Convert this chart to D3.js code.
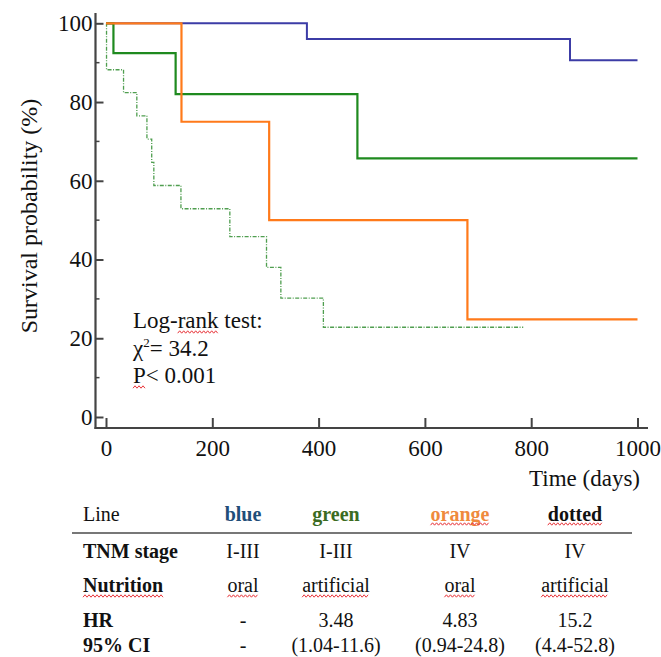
<!DOCTYPE html>
<meta charset="utf-8">
<script src="https://d3js.org/d3.v7.min.js"></script>
<style>
body { margin:0; background:#fff; }
</style>
<body>
</body>
<script>

// survival curves: event times (days) and survival (%) after each step
var blueTimes   = [0, 378, 873, 1000];
var blueSurv    = [100, 96.0, 90.6, 90.6];
var greenTimes  = [0, 14, 131, 473, 1000];
var greenSurv   = [100, 92.4, 82.0, 65.7, 65.7];
var orangeTimes = [0, 142, 307, 680, 1000];
var orangeSurv  = [100, 75.0, 50.0, 24.8, 24.8];
var dottedTimes = [0, 1, 33, 58, 77, 86, 90, 141, 233, 302, 329, 409, 785];
var dottedSurv  = [100, 88.2, 82.4, 76.5, 70.6, 64.7, 58.8, 52.9, 45.8, 38.0, 30.2, 22.8, 22.8];

var xTicks = [0, 200, 400, 600, 800, 1000];
var yTicks = [0, 20, 40, 60, 80, 100];
var yMinorTicks = [10, 30, 50, 70, 90];

// table
var tableCols  = ["blue", "green", "orange", "dotted"];
var rowLabels  = ["TNM stage", "Nutrition", "HR", "95% CI"];
var tnmStage   = ["I-III", "I-III", "IV", "IV"];
var nutrition  = ["oral", "artificial", "oral", "artificial"];
var hrValues   = ["-", "3.48", "4.83", "15.2"];
var ciValues   = ["-", "(1.04-11.6)", "(0.94-24.8)", "(4.4-52.8)"];

var W = 661, H = 657;
var serif = '"Liberation Serif", "Times New Roman", "DejaVu Serif", serif';
var ink = '#111';

var svg = d3.select('body').append('svg')
  .attr('width', W)
  .attr('height', H)
  .style('font-family', serif);

var x = d3.scaleLinear().domain([0, 1000]).range([106, 637.5]);
var y = d3.scaleLinear().domain([0, 100]).range([417, 23.3]);

var axisColor = '#444';

// axes
var yAxis = d3.axisLeft(y).tickValues(yTicks).tickSizeInner(-8).tickSizeOuter(0).tickPadding(3);
var gy = svg.append('g').attr('transform', 'translate(95.5,0)').call(yAxis);
gy.attr('font-family', null);
gy.select('.domain').remove();
gy.selectAll('line').attr('stroke', axisColor).attr('stroke-width', 2);
gy.selectAll('text').style('font-size', '23px').attr('fill', ink);

gy.selectAll('.minor').data(yMinorTicks).enter().append('line')
  .attr('class', 'minor')
  .attr('x1', 0).attr('x2', 4)
  .attr('y1', function(d) { return y(d); })
  .attr('y2', function(d) { return y(d); })
  .attr('stroke', axisColor).attr('stroke-width', 1.5);

var xAxis = d3.axisBottom(x).tickValues(xTicks).tickFormat(d3.format('d'))
  .tickSizeInner(-10).tickSizeOuter(0).tickPadding(12);
var gx = svg.append('g').attr('transform', 'translate(0,428)').call(xAxis);
gx.attr('font-family', null);
gx.select('.domain').remove();
gx.selectAll('line').attr('stroke', axisColor).attr('stroke-width', 2);
gx.selectAll('text').style('font-size', '23px').attr('fill', ink);

svg.append('line').attr('x1', 95.5).attr('x2', 95.5).attr('y1', 13).attr('y2', 429)
  .attr('stroke', axisColor).attr('stroke-width', 2.2);
svg.append('line').attr('x1', 94.5).attr('x2', 648).attr('y1', 428).attr('y2', 428)
  .attr('stroke', axisColor).attr('stroke-width', 2.2);

svg.append('text')
  .attr('transform', 'translate(37,216) rotate(-90)')
  .attr('text-anchor', 'middle')
  .attr('fill', ink)
  .style('font-size', '24px')
  .text('Survival probability (%)');

svg.append('text')
  .attr('x', 640).attr('y', 486)
  .attr('text-anchor', 'end')
  .attr('fill', ink)
  .style('font-size', '23px')
  .text('Time (days)');

// curves
var line = d3.line()
  .x(function(d) { return x(d[0]); })
  .y(function(d) { return y(d[1]); })
  .curve(d3.curveStepAfter);

function pairs(t, s) { return t.map(function(d, i) { return [d, s[i]]; }); }

var curves = [
  {t: dottedTimes, s: dottedSurv, color: '#4f9e4f', w: 1.3, dash: '4,1.5,1,1.5'},
  {t: blueTimes, s: blueSurv, color: '#3c3ca6', w: 2, dash: null},
  {t: greenTimes, s: greenSurv, color: '#1f8a1f', w: 2.2, dash: null},
  {t: orangeTimes, s: orangeSurv, color: '#ff7a1a', w: 2.2, dash: null}
];

svg.selectAll('.curve').data(curves).enter().append('path')
  .attr('class', 'curve')
  .attr('d', function(d) { return line(pairs(d.t, d.s)); })
  .attr('fill', 'none')
  .attr('stroke', function(d) { return d.color; })
  .attr('stroke-width', function(d) { return d.w; })
  .attr('stroke-dasharray', function(d) { return d.dash; });

// red spell-check squiggle under chars [start, start+n) of a text node
function squiggle(node, start, n, dy) {
  var x0 = node.getStartPositionOfChar(start).x;
  var x1 = node.getEndPositionOfChar(start + n - 1).x;
  var yb = node.getStartPositionOfChar(start).y + (dy || 4);
  var pts = [], i = 0;
  for (var xx = x0; xx <= x1; xx += 2, i++) pts.push([xx, yb + (i % 2 ? -1.2 : 1.2)]);
  svg.append('path')
    .attr('d', d3.line()(pts))
    .attr('fill', 'none')
    .attr('stroke', '#e8343a')
    .attr('stroke-width', 1);
}

// log-rank annotation
var ann = svg.append('g').style('font-size', '23px').attr('fill', ink);
var t1 = ann.append('text').attr('x', 133).attr('y', 328).text('Log-rank test:');
var t2 = ann.append('text').attr('x', 133).attr('y', 356);
t2.append('tspan').text('\u03C7');
t2.append('tspan').attr('dy', -9).style('font-size', '13px').text('2');
t2.append('tspan').attr('dy', 9).text('= 34.2');
var t3 = ann.append('text').attr('x', 133).attr('y', 383).text('P< 0.001');
squiggle(t1.node(), 4, 4, 4);
squiggle(t3.node(), 0, 1, 4);

// table
var colX = d3.scaleOrdinal().domain(tableCols).range([243, 336, 460, 575]);
var colColor = d3.scaleOrdinal().domain(tableCols).range(['#1f4e79', '#3b6b22', '#ef8a3d', '#111']);
var rowY = [558, 592, 627, 652];
var rowData = [tnmStage, nutrition, hrValues, ciValues];
var tableLeft = 83;
var headY = 521;

var tbl = svg.append('g').style('font-size', '20px').attr('fill', ink);
tbl.append('text').attr('x', tableLeft).attr('y', headY).text('Line');
var heads = tbl.selectAll('.head').data(tableCols).enter().append('text')
  .attr('class', 'head')
  .attr('x', function(d) { return colX(d); })
  .attr('y', headY)
  .attr('text-anchor', 'middle')
  .style('font-weight', 'bold')
  .attr('fill', function(d) { return colColor(d); })
  .text(function(d) { return d; });

svg.append('line').attr('x1', 72).attr('x2', 632).attr('y1', 533).attr('y2', 533)
  .attr('stroke', '#777').attr('stroke-width', 2);

var labels = tbl.selectAll('.rowlab').data(rowLabels).enter().append('text')
  .attr('class', 'rowlab')
  .attr('x', tableLeft)
  .attr('y', function(d, i) { return rowY[i]; })
  .style('font-weight', 'bold')
  .text(function(d) { return d; });

var cells = [];
rowData.forEach(function(row, r) {
  row.forEach(function(v, c) { cells.push({r: r, c: tableCols[c], v: v}); });
});
var cellText = tbl.selectAll('.cell').data(cells).enter().append('text')
  .attr('class', 'cell')
  .attr('x', function(d) { return colX(d.c); })
  .attr('y', function(d) { return rowY[d.r]; })
  .attr('text-anchor', 'middle')
  .text(function(d) { return d.v; });

// squiggles in table
heads.each(function(d) {
  if (d === 'orange' || d === 'dotted') squiggle(this, 0, d.length, 3);
});
labels.each(function(d) {
  if (d === 'Nutrition') squiggle(this, 0, d.length, 4);
});
cellText.each(function(d) {
  if (d.r === 1) squiggle(this, 0, d.v.length, 4);
});

</script>
